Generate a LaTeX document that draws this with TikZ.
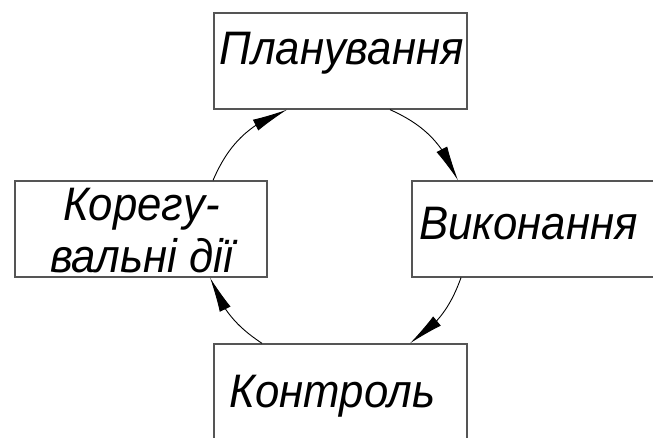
\documentclass[tikz,border=0pt]{standalone}
\usepackage{fontspec}
\setmainfont{Liberation Sans}[FakeStretch=0.93]
\usetikzlibrary{arrows.meta,bending}
\definecolor{boxgray}{HTML}{555555}
\tikzset{
  stagebox/.style={draw=boxgray,line width=1.3pt,minimum width=253pt,minimum height=96pt,inner sep=0pt,fill=white},
  lbl/.style={anchor=base,inner sep=0pt,font=\fontsize{47}{52}\selectfont\itshape},
  cyc/.style={line width=0.9pt,-{Latex[length=35pt,width=12pt]}},
}
\begin{document}
\begin{tikzpicture}[x=1pt,y=1pt]
\useasboundingbox (0,0) rectangle (653,437);
\clip (0,0) rectangle (653,437);
\node[stagebox] (top) at (340.5,376) {};
\node[stagebox,minimum width=252pt] (left) at (141,208) {};
\node[stagebox] (right) at (538.5,208) {};
\node[stagebox] (bottom) at (340.5,45) {};
\node[lbl] (ttop) at (341.5,372) {Планування};
\node[lbl] (tright) at (528.5,197) {Виконання};
\node[lbl] (tbottom) at (332.5,30) {Контроль};
\node[lbl] (tleft1) at (141.5,217) {Корегу-};
\node[lbl] (tleft2) at (141.5,165) {вальні дії};
\draw[cyc] ([xshift=49.5pt]top.south) to[bend left=22] ([xshift=-80.5pt]right.north);
\draw[cyc] ([xshift=-77.5pt]right.south) to[bend left=18] ([xshift=69.5pt]bottom.north);
\draw[cyc] ([xshift=-78.5pt]bottom.north) to[bend left=18] ([xshift=69pt]left.south);
\draw[cyc] ([xshift=72pt]left.north) to[bend left=23] ([xshift=-53.5pt]top.south);
\end{tikzpicture}
\end{document}
